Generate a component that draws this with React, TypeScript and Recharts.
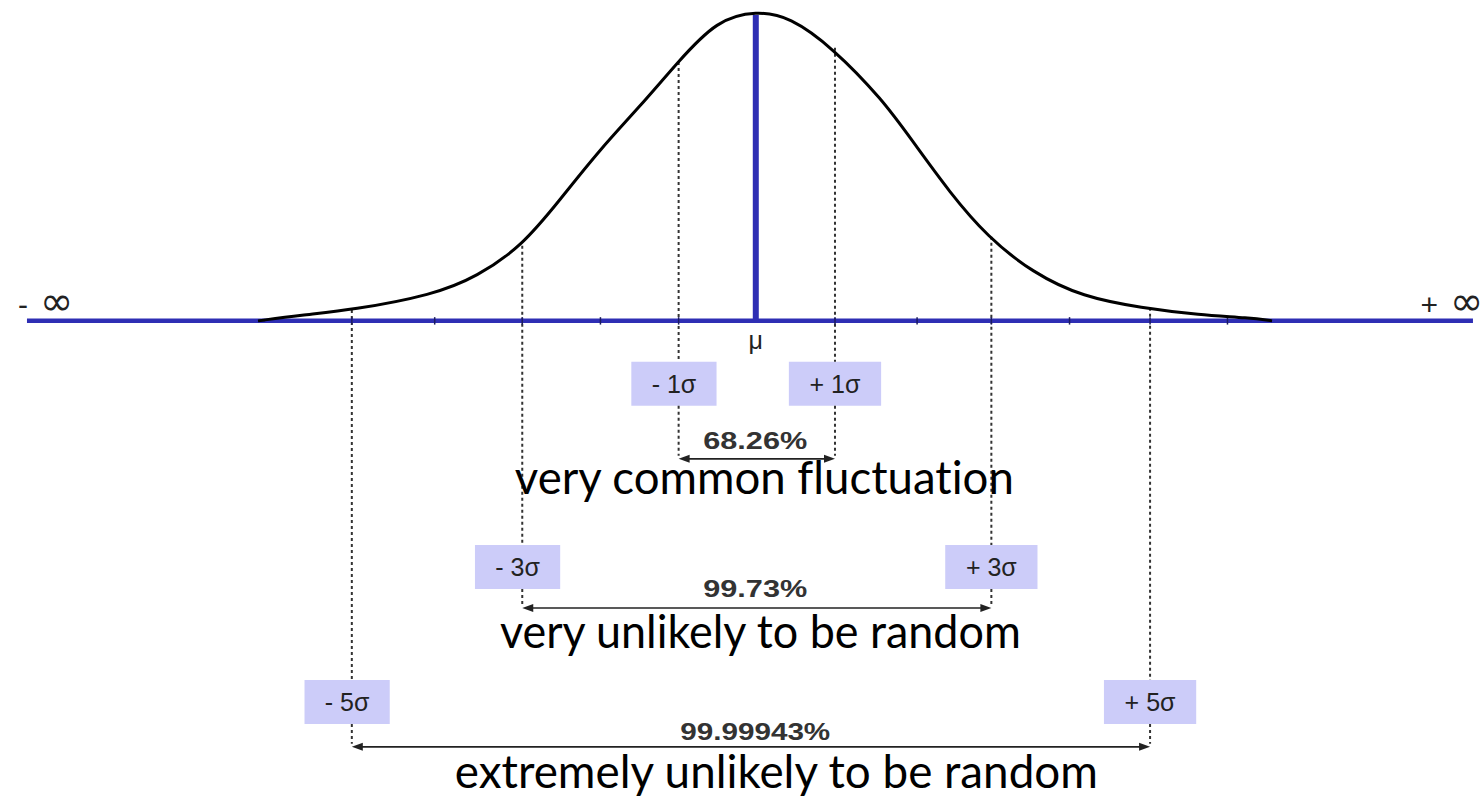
import React from "react"
import { ComposedChart, Line, XAxis, YAxis, ReferenceLine, ReferenceArea, ReferenceDot } from "recharts"

// bell curve: x in sigma from mu, height relative to the peak
const curveX = [-6.38, -5.84, -5.17, -4.14, -3.58, -3.0, -2.52, -2.01, -1.5, -1.01, -0.51, 0, 0.42, 0.97, 1.61, 1.98, 2.47, 2.95, 3.53, 4.17, 4.92, 5.66, 6.3, 6.59]
const curveY = [0, 0.019, 0.035, 0.084, 0.142, 0.242, 0.39, 0.552, 0.69, 0.835, 0.971, 1, 0.981, 0.881, 0.713, 0.584, 0.413, 0.271, 0.155, 0.077, 0.042, 0.019, 0.01, 0]

// sigma markers: label, where the dotted line sits, where it meets the curve, which band
const sigmaLabels = ["- 5σ", "- 3σ", "- 1σ", "+ 1σ", "+ 3σ", "+ 5σ"]
const sigmaPos = [-5.18, -3, -1, 1, 3, 5.03]
const sigmaTop = [0.035, 0.242, 0.835, 0.881, 0.271, 0.042]
const sigmaBand = [2, 1, 0, 0, 1, 2]

const axisTicks = [-5.18, -4.12, -3, -2, -1, 1, 2.05, 3, 4, 5.03, 6.02]

const bandPct = ["68.26%", "99.73%", "99.99943%"]
const bandText = ["very common fluctuation", "very unlikely to be random", "extremely unlikely to be random"]

const data = curveX.map((x, i) => ({ x, y: curveY[i] }))

// layout (value units of the chart, plus a few pixel widths for text)
const X_DOMAIN = [-9.68, 9.25]
const Y_DOMAIN = [-1.539, 1.035]
const BLUE = "#2e2eb4"
const BOX = "#ccccf9"
const SANS = "'Liberation Sans', Arial, sans-serif"
const rows = [
  { boxTop: -0.132, boxBottom: -0.274, pctY: -0.413, arrowY: -0.445, textY: -0.557, textX: -3.095, textLen: 499, pctLen: 104 },
  { boxTop: -0.723, boxBottom: -0.865, pctY: -0.89, arrowY: -0.926, textY: -1.054, textX: -3.286, textLen: 521, pctLen: 104 },
  { boxTop: -1.158, boxBottom: -1.3, pctY: -1.352, arrowY: -1.374, textY: -1.506, textX: -3.862, textLen: 643, pctLen: 150 },
]

const arrowShape = (p: any) => {
  const { x1, y1, x2, y2 } = p
  const h = 11
  const w = 4
  return (
    <g>
      <line x1={x1 + h - 1} y1={y1} x2={x2 - h + 1} y2={y2} stroke="#222" strokeWidth={1.6} />
      <polygon points={`${x1},${y1} ${x1 + h},${y1 - w} ${x1 + h},${y1 + w}`} fill="#222" />
      <polygon points={`${x2},${y2} ${x2 - h},${y2 - w} ${x2 - h},${y2 + w}`} fill="#222" />
    </g>
  )
}

const textShape = (content: React.ReactNode, attrs: any) => (p: any) => (
  <text x={p.cx} y={p.cy} {...attrs}>{content}</text>
)

export default function App() {
  return (
    <div style={{ position: "absolute", left: 0, top: 0 }}>
      <ComposedChart width={1480} height={798} data={data} margin={{ top: 0, right: 0, bottom: 0, left: 0 }}>
        <XAxis type="number" dataKey="x" domain={X_DOMAIN} allowDataOverflow hide />
        <YAxis type="number" domain={Y_DOMAIN} allowDataOverflow hide />

        {/* dotted guides, split around the label boxes */}
        {sigmaPos.map((s, i) => {
          const r = rows[sigmaBand[i]]
          return (
            <React.Fragment key={"d" + i}>
              <ReferenceLine
                segment={[{ x: s, y: sigmaTop[i] }, { x: s, y: r.boxTop }]}
                stroke="#333"
                strokeWidth={2}
                strokeDasharray="3 3"
              />
              <ReferenceLine
                segment={[{ x: s, y: r.boxBottom }, { x: s, y: r.arrowY + 0.01 }]}
                stroke="#333"
                strokeWidth={2}
                strokeDasharray="3 3"
              />
            </React.Fragment>
          )
        })}

        <ReferenceLine segment={[{ x: -9.335, y: 0 }, { x: 9.16, y: 0 }]} stroke={BLUE} strokeWidth={4.5} />
        {axisTicks.map((t, i) => (
          <ReferenceLine key={"t" + i} segment={[{ x: t, y: -0.012 }, { x: t, y: 0.012 }]} stroke="#1c1c60" strokeWidth={1.5} />
        ))}
        <ReferenceLine segment={[{ x: -0.013, y: 0 }, { x: -0.013, y: 0.987 }]} stroke={BLUE} strokeWidth={6} />

        <Line type="basis" dataKey="y" stroke="#000" strokeWidth={3} dot={false} activeDot={false} isAnimationActive={false} />

        {sigmaLabels.map((lab, i) => {
          const r = rows[sigmaBand[i]]
          const minus = sigmaPos[i] < 0
          const half = minus ? 0.545 : 0.59
          const c = sigmaPos[i] + (minus ? -0.06 : 0)
          return (
            <ReferenceArea
              key={"b" + i}
              x1={c - half}
              x2={c + half}
              y1={r.boxBottom}
              y2={r.boxTop}
              fill={BOX}
              fillOpacity={1}
              stroke="none"
              label={{ value: lab, position: "center", fill: "#222", fontSize: 25, fontFamily: SANS }}
            />
          )
        })}

        {rows.map((r, i) => (
          <ReferenceLine
            key={"a" + i}
            segment={[{ x: sigmaPos[2 - i], y: r.arrowY }, { x: sigmaPos[3 + i], y: r.arrowY }]}
            shape={arrowShape}
          />
        ))}

        {rows.map((r, i) => (
          <ReferenceDot
            key={"p" + i}
            x={-0.02}
            y={r.pctY}
            r={0}
            shape={textShape(bandPct[i], {
              textAnchor: "middle",
              fontFamily: SANS,
              fontWeight: "bold",
              fontSize: 24,
              fill: "#333",
              textLength: r.pctLen,
              lengthAdjust: "spacingAndGlyphs",
            })}
          />
        ))}

        {rows.map((r, i) => (
          <ReferenceDot
            key={"c" + i}
            x={r.textX}
            y={r.textY}
            r={0}
            shape={textShape(bandText[i], {
              fontFamily: "Lato, 'Open Sans', sans-serif",
              fontSize: 46,
              fill: "#000",
              textLength: r.textLen,
              lengthAdjust: "spacingAndGlyphs",
              style: { fontVariantLigatures: "none" },
            })}
          />
        ))}

        <ReferenceDot
          x={-0.013}
          y={-0.09}
          r={0}
          shape={textShape("μ", { textAnchor: "middle", fontFamily: SANS, fontSize: 25, fill: "#222" })}
        />
        <ReferenceDot
          x={-9.45}
          y={0.02}
          r={0}
          shape={textShape(
            <>
              <tspan fontFamily={SANS} fontSize={30}>-</tspan>
              <tspan dx={12} fontFamily="'DejaVu Sans', sans-serif" fontSize={40}>∞</tspan>
            </>,
            { fill: "#222" }
          )}
        />
        <ReferenceDot
          x={8.49}
          y={0.02}
          r={0}
          shape={textShape(
            <>
              <tspan fontFamily={SANS} fontSize={30}>+</tspan>
              <tspan dx={12} fontFamily="'DejaVu Sans', sans-serif" fontSize={40}>∞</tspan>
            </>,
            { fill: "#222" }
          )}
        />
      </ComposedChart>
    </div>
  )
}
